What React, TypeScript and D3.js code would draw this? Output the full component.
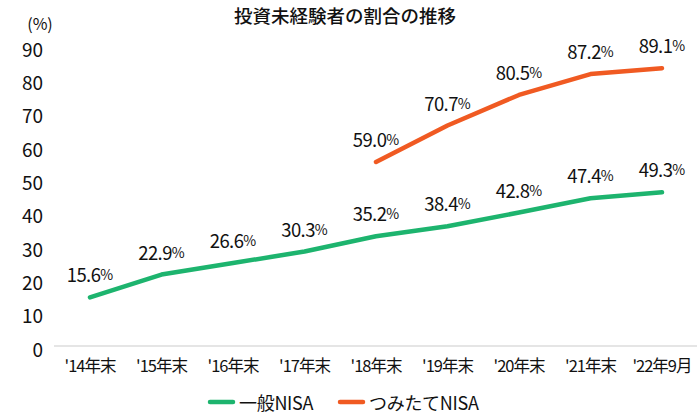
import React, { useEffect, useRef } from "react";
import * as d3 from "d3";

const categories = ["'14年末", "'15年末", "'16年末", "'17年末", "'18年末", "'19年末", "'20年末", "'21年末", "'22年9月"];
const ippanValues = [15.6, 22.9, 26.6, 30.3, 35.2, 38.4, 42.8, 47.4, 49.3];
const tsumitateValues = [null, null, null, null, 59.0, 70.7, 80.5, 87.2, 89.1];
const yTicks = [0, 10, 20, 30, 40, 50, 60, 70, 80, 90];
const seriesNames = ["一般NISA", "つみたてNISA"];
const colors = ["#1db46e", "#f05a22"];

const FONT = "'Noto Sans CJK JP', 'Noto Sans', sans-serif";
const INK = "#111";

export default function App() {
  const ref = useRef<SVGSVGElement>(null);

  useEffect(() => {
    const width = 700;
    const height = 420;
    const svg = d3.select(ref.current).attr("width", width).attr("height", height);
    svg.selectAll("*").remove();

    const xScale = d3.scalePoint().domain(categories).range([90, 662]);
    // tick scale and value scale share the pixel range (the original's line sits a bit below its axis)
    const tickScale = d3.scaleLinear().domain([0, 90]).range([346, 46]);
    const yScale = d3.scaleLinear().domain([0, 96.2]).range([346, 46]);

    // title
    svg.append("text")
      .attr("x", 345).attr("y", 15)
      .attr("text-anchor", "middle").attr("dominant-baseline", "central")
      .style("font-family", FONT).style("font-size", "18.5px").style("font-weight", 500)
      .attr("fill", INK)
      .text("投資未経験者の割合の推移");

    svg.append("text")
      .attr("x", 40).attr("y", 23)
      .attr("text-anchor", "middle").attr("dominant-baseline", "central")
      .style("font-family", FONT).style("font-size", "16px")
      .attr("fill", INK)
      .text("(%)");

    // baseline
    svg.append("line")
      .attr("x1", 54).attr("x2", 697)
      .attr("y1", tickScale(0)).attr("y2", tickScale(0))
      .attr("stroke", "#dcdcdc").attr("stroke-width", 1.5);

    // y tick labels
    svg.selectAll(".ytick").data(yTicks).join("text")
      .attr("class", "ytick")
      .attr("x", 43).attr("y", d => tickScale(d) + 2)
      .attr("text-anchor", "end").attr("dominant-baseline", "central")
      .style("font-family", FONT).style("font-size", "19px")
      .attr("fill", INK)
      .text(d => d);

    // x labels
    svg.selectAll(".xtick").data(categories).join("text")
      .attr("class", "xtick")
      .attr("x", d => xScale(d)!).attr("y", 365)
      .attr("text-anchor", "middle").attr("dominant-baseline", "central")
      .style("font-family", FONT).style("font-size", "16.5px").style("letter-spacing", "-1px")
      .attr("fill", INK)
      .text(d => d);

    const series = [ippanValues, tsumitateValues];

    series.forEach((vals, i) => {
      const pts = categories.map((c, j) => ({ c, v: vals[j] })).filter(p => p.v != null) as { c: string; v: number }[];
      const line = d3.line<{ c: string; v: number }>()
        .x(d => xScale(d.c)!)
        .y(d => yScale(d.v));

      svg.append("path")
        .datum(pts)
        .attr("d", line)
        .attr("fill", "none")
        .attr("stroke", colors[i])
        .attr("stroke-width", 4.5)
        .attr("stroke-linecap", "round")
        .attr("stroke-linejoin", "round");

      const labels = svg.selectAll(".lbl" + i).data(pts).join("text")
        .attr("class", "lbl" + i)
        .attr("x", d => xScale(d.c)!).attr("y", d => yScale(d.v) - 23)
        .attr("text-anchor", "middle").attr("dominant-baseline", "central")
        .style("font-family", FONT)
        .attr("fill", INK);
      labels.append("tspan").style("font-size", "18.5px").style("letter-spacing", "-0.6px").text(d => d.v.toFixed(1));
      labels.append("tspan").style("font-size", "14px").text("%");
    });

    // legend
    const legendX = [210, 340];
    seriesNames.forEach((name, i) => {
      svg.append("line")
        .attr("x1", legendX[i]).attr("x2", legendX[i] + 23)
        .attr("y1", 402).attr("y2", 402)
        .attr("stroke", colors[i]).attr("stroke-width", 4.5)
        .attr("stroke-linecap", "round");
      svg.append("text")
        .attr("x", legendX[i] + 29).attr("y", 402)
        .attr("dominant-baseline", "central")
        .style("font-family", FONT).style("font-size", "18px").style("letter-spacing", "-0.3px")
        .attr("fill", INK)
        .text(name);
    });
  }, []);

  return <svg ref={ref} style={{ position: "absolute", left: 0, top: 0 }}></svg>;
}
